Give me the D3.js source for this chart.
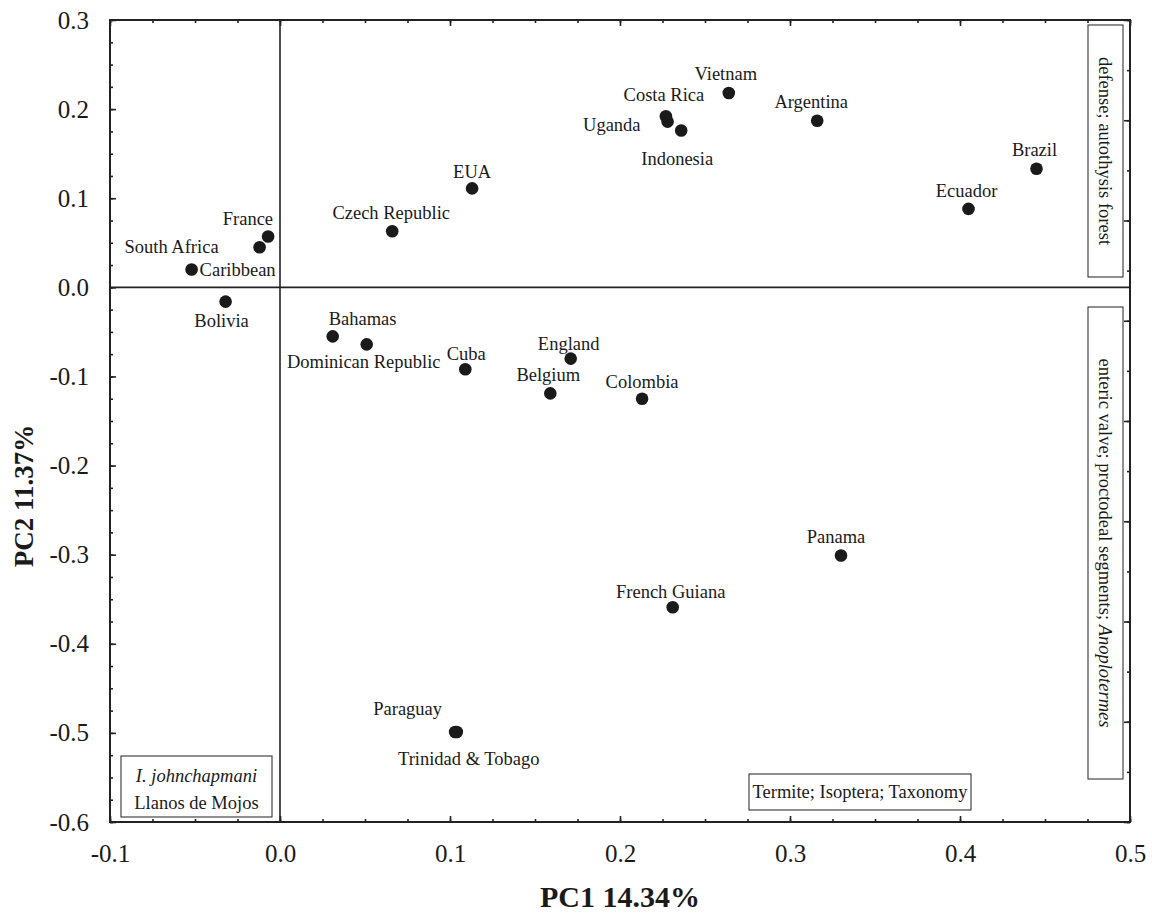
<!DOCTYPE html>
<html>
<head>
<meta charset="utf-8">
<script src="https://cdn.jsdelivr.net/npm/d3@7"></script>
<style>
  body { margin: 0; background: #fff; }
  text { font-family: "Liberation Serif", "Times New Roman", serif; fill: #1a1a1a; }
</style>
</head>
<body>
<div id="chart"></div>
<script>
// PCA scores
const countries = ["Vietnam", "Costa Rica", "Uganda", "Indonesia", "Argentina", "Brazil", "Ecuador",
  "EUA", "Czech Republic", "France", "South Africa", "Caribbean", "Bolivia", "Bahamas",
  "Dominican Republic", "Cuba", "England", "Belgium", "Colombia", "Panama", "French Guiana",
  "Paraguay", "Trinidad & Tobago"];
const pc1 = [0.264, 0.227, 0.228, 0.236, 0.316, 0.445, 0.405,
  0.113, 0.066, -0.007, -0.012, -0.052, -0.032, 0.031,
  0.051, 0.109, 0.171, 0.159, 0.213, 0.330, 0.231,
  0.103, 0.104];
const pc2 = [0.218, 0.192, 0.186, 0.176, 0.187, 0.133, 0.088,
  0.111, 0.063, 0.057, 0.045, 0.020, -0.016, -0.055,
  -0.064, -0.092, -0.080, -0.119, -0.125, -0.301, -0.359,
  -0.499, -0.499];

const xTickValues = [-0.1, 0.0, 0.1, 0.2, 0.3, 0.4, 0.5];
const yTickValues = [0.3, 0.2, 0.1, 0.0, -0.1, -0.2, -0.3, -0.4, -0.5, -0.6];
const xTitle = "PC1 14.34%";
const yTitle = "PC2 11.37%";

// where each name sits relative to its dot: [dx, dy, anchor]
const labelPlace = {
  "Vietnam": [-3, -13, "middle"], "Costa Rica": [-2, -15, "middle"], "Uganda": [-27, 9, "end"],
  "Indonesia": [-4, 35, "middle"], "Argentina": [-6, -13, "middle"], "Brazil": [-2, -13, "middle"],
  "Ecuador": [-2, -12, "middle"], "EUA": [0, -10, "middle"], "Czech Republic": [-1, -12, "middle"],
  "France": [5, -12, "end"], "South Africa": [-41, 6, "end"], "Caribbean": [8, 6, "start"],
  "Bolivia": [-4, 25, "middle"], "Bahamas": [-4, -11, "start"], "Dominican Republic": [-3, 24, "middle"],
  "Cuba": [1, -9, "middle"], "England": [-2, -9, "middle"], "Belgium": [-2, -12, "middle"],
  "Colombia": [0, -11, "middle"], "Panama": [-5, -13, "middle"], "French Guiana": [-2, -9, "middle"],
  "Paraguay": [-13, -17, "end"], "Trinidad & Tobago": [12, 33, "middle"]
};

const W = 1152, H = 914;
const margin = {top: 20, right: 22, bottom: 92, left: 110};
const iw = W - margin.left - margin.right, ih = H - margin.top - margin.bottom;

const svg = d3.select("#chart").append("svg").attr("width", W).attr("height", H);
const g = svg.append("g").attr("transform", `translate(${margin.left},${margin.top})`);

const x = d3.scaleLinear().domain([-0.1, 0.5]).range([0, iw]);
const y = d3.scaleLinear().domain([-0.6, 0.3]).range([ih, 0]);
// the right frame carries its own tick scale
const yRight = d3.scaleLinear().domain([0, 8]).range([ih, 0]);

const fmt = d => d.toFixed(1).replace("-0.0", "0.0");
const minorX = d3.range(-0.1, 0.5001, 0.025);
const minorY = d3.range(-0.6, 0.3001, 0.025);

function styleAxis(sel) {
  sel.attr("font-family", "Liberation Serif, serif").attr("font-size", 25);
  sel.select(".domain").remove();
  sel.selectAll(".tick line").attr("stroke", "#222").attr("stroke-width", 1.6);
}

// minor ticks
g.append("g").attr("transform", `translate(0,${ih})`)
  .call(d3.axisBottom(x).tickValues(minorX).tickSizeInner(-3).tickSizeOuter(0).tickFormat(""))
  .call(styleAxis);
g.append("g")
  .call(d3.axisTop(x).tickValues(minorX).tickSizeInner(-3).tickSizeOuter(0).tickFormat(""))
  .call(styleAxis);
g.append("g")
  .call(d3.axisLeft(y).tickValues(minorY).tickSizeInner(-3).tickSizeOuter(0).tickFormat(""))
  .call(styleAxis);
g.append("g").attr("transform", `translate(${iw},0)`)
  .call(d3.axisRight(yRight).tickValues(d3.range(0, 8.01, 0.5)).tickSizeInner(-3).tickSizeOuter(0).tickFormat(""))
  .call(styleAxis);

// major ticks + labels
const xAxis = g.append("g").attr("transform", `translate(0,${ih})`)
  .call(d3.axisBottom(x).tickValues(xTickValues).tickSizeInner(-6).tickSizeOuter(0).tickPadding(22).tickFormat(fmt))
  .call(styleAxis);
g.append("g")
  .call(d3.axisTop(x).tickValues(xTickValues).tickSizeInner(-6).tickSizeOuter(0).tickFormat(""))
  .call(styleAxis);
const yAxis = g.append("g")
  .call(d3.axisLeft(y).tickValues(yTickValues).tickSizeInner(-6).tickSizeOuter(0).tickPadding(21).tickFormat(fmt))
  .call(styleAxis);
g.append("g").attr("transform", `translate(${iw},0)`)
  .call(d3.axisRight(yRight).tickValues(d3.range(0, 8.01, 1)).tickSizeInner(-6).tickSizeOuter(0).tickFormat(""))
  .call(styleAxis);

[xAxis, yAxis].forEach(a => a.selectAll("text")
  .style("font-family", "'Liberation Serif', serif")
  .style("font-size", "25px").attr("fill", "#1a1a1a"));

// frame and zero lines
g.append("rect").attr("width", iw).attr("height", ih)
  .attr("fill", "none").attr("stroke", "#222").attr("stroke-width", 2);
g.append("line").attr("x1", x(0)).attr("x2", x(0)).attr("y1", 0).attr("y2", ih)
  .attr("stroke", "#222").attr("stroke-width", 1.6);
g.append("line").attr("x1", 0).attr("x2", iw).attr("y1", y(0)).attr("y2", y(0))
  .attr("stroke", "#222").attr("stroke-width", 1.6);

// points
const pts = countries.map((c, i) => ({name: c, pc1: pc1[i], pc2: pc2[i]}));
g.selectAll("circle.pt").data(pts).enter().append("circle")
  .attr("class", "pt")
  .attr("cx", d => x(d.pc1)).attr("cy", d => y(d.pc2)).attr("r", 6.3)
  .attr("fill", "#1a1a1a");

g.selectAll("text.lbl").data(pts).enter().append("text")
  .attr("class", "lbl")
  .attr("x", d => x(d.pc1) + labelPlace[d.name][0])
  .attr("y", d => y(d.pc2) + labelPlace[d.name][1])
  .attr("text-anchor", d => labelPlace[d.name][2])
  .style("font-size", "18.5px")
  .text(d => d.name);

// annotation boxes
function box(x0, y0, w, h) {
  g.append("rect").attr("x", x0 - margin.left).attr("y", y0 - margin.top)
    .attr("width", w).attr("height", h)
    .attr("fill", "#fff").attr("stroke", "#333").attr("stroke-width", 1.1);
}

box(1088, 25, 35, 252);
svg.append("text").attr("transform", "translate(1105.5,151) rotate(90)")
  .attr("text-anchor", "middle").attr("dy", "0.33em").style("font-size", "18.5px")
  .text("defense; autothysis forest");

box(1088, 307, 35, 472);
const ent = svg.append("text").attr("transform", "translate(1105.5,543) rotate(90)")
  .attr("text-anchor", "middle").attr("dy", "0.33em").style("font-size", "18.5px");
ent.append("tspan").text("enteric valve; proctodeal segments; ");
ent.append("tspan").style("font-style", "italic").text("Anoplotermes");

box(121, 756, 151, 61);
svg.append("text").attr("x", 196.5).attr("y", 782).attr("text-anchor", "middle")
  .style("font-size", "18.5px").style("font-style", "italic").text("I. johnchapmani");
svg.append("text").attr("x", 196.5).attr("y", 809).attr("text-anchor", "middle")
  .style("font-size", "18.5px").text("Llanos de Mojos");

box(749, 774, 222, 36);
svg.append("text").attr("x", 860).attr("y", 798).attr("text-anchor", "middle")
  .style("font-size", "18.5px").text("Termite; Isoptera; Taxonomy");

// axis titles
svg.append("text").attr("x", margin.left + x(0.2)).attr("y", 907)
  .attr("text-anchor", "middle").style("font-size", "30px").style("font-weight", "bold")
  .text(xTitle);
svg.append("text").attr("transform", "translate(33,496) rotate(-90)")
  .attr("text-anchor", "middle").style("font-size", "27px").style("font-weight", "bold")
  .text(yTitle);
</script>
</body>
</html>
